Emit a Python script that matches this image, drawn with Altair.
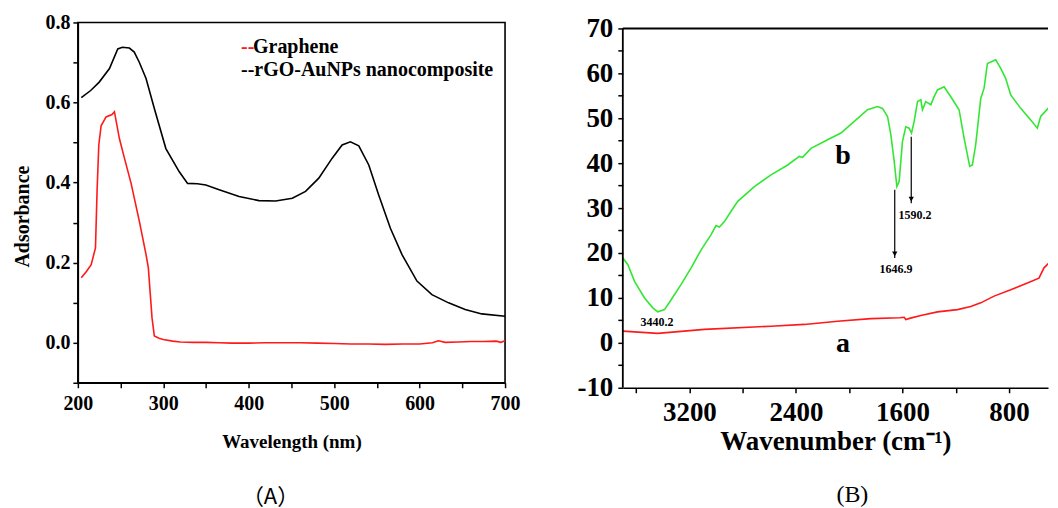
import altair as alt
import pandas as pd

# ---------------- Panel A : UV-vis ----------------
wl_black = [204, 215, 225, 237, 246.7, 252, 260.3, 266, 272, 279.8, 289.5, 303, 318.7, 328.4, 340, 349.8,
            365.4, 388.7, 412, 431.5, 451, 466.5, 482, 497.7, 509.3, 519, 528.8, 540.5, 552.1, 565.8,
            579.4, 596.9, 614.4, 633.9, 653.3, 672.8, 700]
abs_black = [0.612, 0.630, 0.651, 0.685, 0.734, 0.738, 0.736, 0.726, 0.700, 0.660, 0.585, 0.485, 0.427,
             0.398, 0.397, 0.394, 0.382, 0.365, 0.355, 0.354, 0.361, 0.378, 0.411, 0.461, 0.494, 0.502,
             0.492, 0.444, 0.369, 0.286, 0.220, 0.154, 0.120, 0.0996, 0.083, 0.072, 0.066]

wl_red = [204, 210, 215.6, 220.6, 222.5, 224.5, 227.2, 233, 240, 242.8, 248.6, 254.5, 262.3, 272, 279.8,
          282.5, 286.8, 289.5, 295, 300, 311, 320, 335, 350, 365, 380, 400, 420, 440, 460, 480, 500, 520,
          540, 560, 580, 600, 615, 622, 630, 645, 660, 675, 690, 695, 700]
abs_red = [0.162, 0.178, 0.195, 0.237, 0.38, 0.494, 0.542, 0.564, 0.570, 0.577, 0.510, 0.461, 0.398, 0.303,
           0.220, 0.187, 0.062, 0.017, 0.011, 0.008, 0.004, 0.002, 0.001, 0.001, 0.0, -0.001, -0.001, 0.0,
           0.0, 0.0, -0.001, -0.002, -0.003, -0.003, -0.004, -0.003, -0.003, 0.0, 0.005, 0.001, 0.002,
           0.003, 0.003, 0.004, 0.001, 0.005]

wl_ticks = [200, 250, 300, 350, 400, 450, 500, 550, 600, 650, 700]
abs_ticks = [-0.1, 0.0, 0.1, 0.2, 0.3, 0.4, 0.5, 0.6, 0.7, 0.8]

legend_text = ["--", "Graphene", "--rGO-AuNPs nanocomposite"]
legend_color = ["#ff1a1a", "black", "black"]
legend_x = [391, 405, 391]
legend_y = [0.723, 0.723, 0.665]

# ---------------- Panel B : FTIR ----------------
wn_b = [3700, 3662, 3612, 3537, 3475, 3437, 3387, 3337, 3262, 3187, 3112, 3037, 3000, 2975, 2937, 2887,
        2837, 2712, 2587, 2462, 2375, 2350, 2287, 2162, 2062, 1962, 1862, 1787, 1750, 1712, 1687, 1662,
        1642, 1625, 1600, 1575, 1550, 1532, 1512, 1487, 1462, 1450, 1425, 1387, 1362, 1337, 1287, 1237,
        1175, 1137, 1095, 1075, 1050, 1012, 987, 962, 900, 862, 825, 787, 712, 637, 587, 562, 500, 475, 450]
t_b = [18.9, 17.4, 13.7, 10.0, 7.8, 6.9, 7.4, 9.6, 13.0, 16.7, 20.7, 24.1, 26.1, 25.8, 27.0, 29.3, 31.5,
       34.8, 37.4, 39.6, 41.5, 41.3, 43.3, 45.2, 46.7, 49.3, 51.9, 52.6, 52.2, 50.4, 46.3, 40.4, 34.8,
       35.9, 44.8, 48.1, 47.8, 46.7, 49.3, 53.7, 54.1, 51.9, 53.7, 53.0, 54.8, 56.3, 57.0, 54.8, 51.9,
       45.6, 39.3, 39.6, 44.1, 54.4, 56.7, 62.2, 63.0, 61.1, 58.9, 55.2, 52.2, 49.6, 47.8, 50.4, 52.4,
       48.5, 47.4]

wn_a = [3700, 3437, 3087, 2587, 2337, 2087, 1837, 1620, 1587, 1575, 1540, 1462, 1337, 1187, 1087, 1012,
        912, 787, 662, 575, 537, 500, 450]
t_a = [2.6, 2.1, 3.0, 3.7, 4.1, 4.8, 5.4, 5.6, 5.7, 5.2, 5.5, 6.1, 6.9, 7.4, 8.1, 8.9, 10.4, 11.8, 13.3,
       14.4, 16.7, 17.8, 18.5]

wn_ticks = [3600, 3200, 2800, 2400, 2000, 1600, 1200, 800]
t_ticks = [-10, -5, 0, 5, 10, 15, 20, 25, 30, 35, 40, 45, 50, 55, 60, 65, 70]

curve_labels = ["b", "a"]
curve_label_x = [2046, 2046]
curve_label_y = [41.5, -0.3]

peak_labels = ["3440.2", "1646.9", "1590.2"]
peak_label_x = [3444, 1648, 1506]
peak_label_y = [4.7, 16.5, 28.4]

arrow_x = [1658, 1534]
arrow_y_start = [34.1, 45.9]
arrow_y_end = [18.9, 31.1]

FONT = "Liberation Serif"
RED = "#ff1a1a"
GREEN = "#33e633"


def axis_style(**kw):
    base = dict(grid=False, domainColor="black", domainWidth=1.5, tickColor="black", tickWidth=1.5,
                tickSize=5, labelFont=FONT, labelFontWeight="bold", labelColor="black",
                titleFont=FONT, titleFontWeight="bold", titleColor="black")
    base.update(kw)
    return alt.Axis(**base)


# ---------- Panel A ----------
left_df = pd.DataFrame(
    [{"x": a, "y": b, "series": "rGO-AuNPs nanocomposite"} for a, b in zip(wl_black, abs_black)]
    + [{"x": a, "y": b, "series": "Graphene"} for a, b in zip(wl_red, abs_red)]
)
leg_df = pd.DataFrame({"x": legend_x, "y": legend_y, "text": legend_text, "color": legend_color})

xA = alt.X("x:Q", scale=alt.Scale(domain=[200, 700], nice=False, zero=False),
           axis=axis_style(values=wl_ticks, labelExpr="datum.value % 100 == 0 ? datum.label : ''",
                           labelFontSize=20, labelPadding=6, titleFontSize=19, titlePadding=19,
                           labelFlush=False),
           title="Wavelength (nm)")
yA = alt.Y("y:Q", scale=alt.Scale(domain=[-0.1, 0.8], nice=False, zero=False),
           axis=axis_style(values=abs_ticks, format=".1f",
                           labelExpr="(round(datum.value*10) % 2 == 0 && datum.value > -0.05) ? datum.label : ''",
                           labelFontSize=20, labelPadding=3, titleFontSize=20, titlePadding=12,
                           titleY=194, labelFlush=False),
           title="Adsorbance")

linesA = alt.Chart(left_df).mark_line(strokeWidth=1.6).encode(
    x=xA, y=yA,
    color=alt.Color("series:N", scale=alt.Scale(domain=["rGO-AuNPs nanocomposite", "Graphene"],
                                                range=["black", RED]), legend=None),
)
legA = alt.Chart(leg_df).mark_text(font=FONT, fontWeight="bold", fontSize=20, align="left",
                                   baseline="alphabetic").encode(
    x=xA, y=yA, text="text:N", color=alt.Color("color:N", scale=None)
)

panelA = alt.layer(linesA, legA).properties(
    width=428, height=361,
    view=alt.ViewBackground(stroke="black", strokeWidth=1.6),
    title=alt.TitleParams(text="（A）", orient="bottom", anchor="middle", frame="bounds",
                          font="Noto Sans CJK SC", fontSize=22, fontWeight="normal", color="black",
                          offset=35, dx=4),
).resolve_scale(color="independent")

# ---------- Panel B ----------
XMAX, XMIN = 3700, 507
right_df = pd.DataFrame(
    [{"x": a, "y": b, "series": "b"} for a, b in zip(wn_b, t_b)]
    + [{"x": a, "y": b, "series": "a"} for a, b in zip(wn_a, t_a)]
)

xB = alt.X("x:Q", scale=alt.Scale(domain=[XMAX, XMIN], nice=False, zero=False),
           axis=axis_style(values=wn_ticks, format="d",
                           labelExpr="datum.value % 800 == 0 ? datum.label : ''",
                           labelFontSize=27, labelPadding=7, titleFontSize=27, titlePadding=3,
                           labelFlush=False),
           title="Wavenumber (cm⁻¹)")
yB = alt.Y("y:Q", scale=alt.Scale(domain=[-10, 71.33], nice=False, zero=False),
           axis=axis_style(values=t_ticks, domain=False, tickSize=5,
                           labelExpr="datum.value % 10 == 0 ? replace(datum.label, '−', '-') : ''",
                           labelFontSize=27, labelPadding=5, labelFlush=False),
           title=None)

linesB = alt.Chart(right_df).mark_line(strokeWidth=1.6, clip=True).encode(
    x=xB, y=yB,
    color=alt.Color("series:N", scale=alt.Scale(domain=["b", "a"], range=[GREEN, RED]), legend=None),
)

vedge_df = pd.DataFrame({"x": [XMAX], "y": [-10], "y2": [70]})
hedge_df = pd.DataFrame({"x": [XMAX], "x2": [XMIN], "y": [70]})
left_edge = alt.Chart(vedge_df).mark_rule(color="black", strokeWidth=1.8).encode(x=xB, y=yB, y2="y2")
top_edge = alt.Chart(hedge_df).mark_rule(color="black", strokeWidth=2).encode(x=xB, x2="x2", y=yB)

arrow_df = pd.DataFrame({"x": arrow_x, "y": arrow_y_start, "y2": arrow_y_end})
arrows = alt.Chart(arrow_df).mark_rule(color="black", strokeWidth=1.2).encode(x=xB, y=yB, y2="y2")
heads_df = pd.DataFrame({"x": arrow_x, "y": [v + 0.9 for v in arrow_y_end]})
heads = alt.Chart(heads_df).mark_point(shape="triangle-down", filled=True, size=28, color="black",
                                       opacity=1).encode(x=xB, y=yB)

cl_df = pd.DataFrame({"x": curve_label_x, "y": curve_label_y, "text": curve_labels})
curve_txt = alt.Chart(cl_df).mark_text(font=FONT, fontWeight="bold", fontSize=28, color="black",
                                       align="center", baseline="middle").encode(x=xB, y=yB, text="text:N")
pk_df = pd.DataFrame({"x": peak_label_x, "y": peak_label_y, "text": peak_labels})
peak_txt = alt.Chart(pk_df).mark_text(font=FONT, fontWeight="bold", fontSize=12, color="black",
                                      align="center", baseline="middle").encode(x=xB, y=yB, text="text:N")

panelB = alt.layer(linesB, left_edge, top_edge, arrows, heads, curve_txt, peak_txt).properties(
    width=426, height=366,
    view=alt.ViewBackground(stroke="transparent"),
    title=alt.TitleParams(text="(B)", orient="bottom", anchor="middle", frame="group",
                          font=FONT, fontSize=24, fontWeight="normal", color="black",
                          offset=28, dx=17),
).resolve_scale(color="independent")

chart = alt.hconcat(panelA, panelB, spacing=55).resolve_scale(color="independent").properties(
    padding={"left": 4, "top": 3, "right": 0, "bottom": 0}
).configure(background="white")

chart.save("out.html", embed_options={"renderer": "svg", "actions": False})
